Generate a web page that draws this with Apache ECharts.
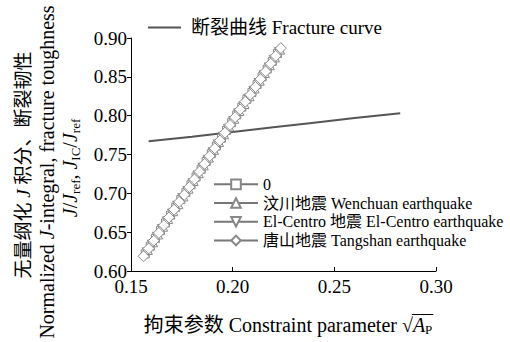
<!DOCTYPE html>
<html><head><meta charset="utf-8">
<script src="https://cdn.jsdelivr.net/npm/echarts@6/dist/echarts.min.js"></script>
<style>html,body{margin:0;padding:0;background:#fff}#c{width:510px;height:342px}</style>
</head><body><div id="c"></div>
<script>
// ---- data ----
const xTicks = [0.15, 0.20, 0.25, 0.30];
const yTicks = [0.60, 0.65, 0.70, 0.75, 0.80, 0.85, 0.90];

const fractureX = [0.1587, 0.180, 0.200, 0.220, 0.240, 0.260, 0.2824];
const fractureY = [0.767, 0.773, 0.779, 0.785, 0.791, 0.797, 0.803];

const s0X = [0.1570,0.1595,0.1620,0.1645,0.1670,0.1695,0.1720,0.1745,0.1770,0.1795,0.1820,0.1845,0.1870,0.1895,0.1920,0.1945,0.1970,0.1995,0.2020,0.2045,0.2070,0.2095,0.2120,0.2145,0.2170,0.2195,0.2220];
const s0Y = [0.622,0.632,0.642,0.652,0.662,0.672,0.682,0.692,0.701,0.711,0.721,0.731,0.741,0.751,0.761,0.771,0.781,0.791,0.801,0.811,0.821,0.830,0.840,0.850,0.860,0.870,0.880];

const wenX = [0.1583,0.1608,0.1633,0.1658,0.1683,0.1708,0.1733,0.1758,0.1783,0.1808,0.1833,0.1858,0.1883,0.1908,0.1933,0.1958,0.1983,0.2008,0.2033,0.2058,0.2083,0.2108,0.2133,0.2158,0.2183,0.2208,0.2233];
const wenY = [0.627,0.637,0.647,0.657,0.667,0.677,0.686,0.696,0.706,0.716,0.726,0.736,0.746,0.756,0.766,0.776,0.786,0.796,0.806,0.815,0.825,0.835,0.845,0.855,0.865,0.875,0.885];

const elX = [0.1577,0.1602,0.1627,0.1652,0.1677,0.1702,0.1727,0.1752,0.1777,0.1802,0.1827,0.1852,0.1877,0.1902,0.1927,0.1952,0.1977,0.2002,0.2027,0.2052,0.2077,0.2102,0.2127,0.2152,0.2177,0.2202,0.2227];
const elY = [0.624,0.634,0.644,0.654,0.664,0.674,0.684,0.694,0.703,0.713,0.723,0.733,0.743,0.753,0.763,0.773,0.783,0.793,0.803,0.812,0.822,0.832,0.842,0.852,0.862,0.872,0.882];

const tangX = [0.1562,0.1587,0.1612,0.1637,0.1662,0.1687,0.1712,0.1737,0.1762,0.1787,0.1812,0.1837,0.1862,0.1887,0.1912,0.1937,0.1962,0.1987,0.2012,0.2037,0.2062,0.2087,0.2112,0.2137,0.2162,0.2187,0.2212,0.2237];
const tangY = [0.619,0.629,0.639,0.649,0.659,0.669,0.679,0.689,0.698,0.708,0.718,0.728,0.738,0.748,0.758,0.768,0.778,0.788,0.798,0.808,0.818,0.827,0.837,0.847,0.857,0.867,0.877,0.887];

const names = {
  fracture: '断裂曲线 Fracture curve',
  s0: '0',
  wen: '汶川地震 Wenchuan earthquake',
  el: 'El-Centro 地震 El-Centro earthquake',
  tang: '唐山地震 Tangshan earthquake'
};
const xNameMain = '拘束参数 Constraint parameter ';

// ---- chart ----
const FONT = "'Liberation Serif', 'Times New Roman', 'Noto Sans CJK SC', serif";
const zip = (a, b) => a.map((v, i) => [v, b[i]]);
const W = 510;
const grid = {left: 131, right: 74, top: 38, bottom: 71};
const XN = 20, XSUB = 13, XPAD = 9;

// measure the x-axis name parts to place the radical's overline
const mctx = document.createElement('canvas').getContext('2d');
const mw = (t, f) => { mctx.font = f; return mctx.measureText(t).width; };
const wMain = mw(xNameMain, XN + 'px ' + FONT);
const wRt = mw('√', XN + 'px ' + FONT);
const wA = mw('A', 'italic ' + XN + 'px ' + FONT);
const wP = mw('P', XSUB + 'px ' + FONT);
const cx = grid.left + (W - grid.left - grid.right) / 2;
const total = wMain + wRt + wA + wP + XPAD;
const textStart = cx - total / 2 + XPAD;
const olX1 = textStart + wMain + wRt * 0.9;
const olX2 = textStart + wMain + wRt + wA + wP + 1;

const chart = echarts.init(document.getElementById('c'), null, {renderer: 'svg'});

const markerSeries = (name, xs, ys, symbol, size, rot) => ({
  name, type: 'line', data: zip(xs, ys),
  symbol, symbolSize: size, symbolRotate: rot || 0,
  showAllSymbol: true,
  lineStyle: {color: '#777', width: 1},
  itemStyle: {color: '#fff', borderColor: '#888', borderWidth: 1},
  emphasis: {disabled: true}
});

const gtext = (x, y, text, size, rich) => ({
  type: 'text', x, y, rotation: Math.PI / 2,
  style: {
    text, fontFamily: FONT, fontSize: size, fill: '#000',
    align: 'center', verticalAlign: 'middle', rich
  }
});

chart.setOption({
  animation: false,
  backgroundColor: '#fff',
  textStyle: {fontFamily: FONT, color: '#000'},
  grid,
  legend: [
    {
      data: [names.fracture], left: 147, top: 18, orient: 'vertical', padding: 0,
      itemWidth: 33, itemHeight: 14,
      itemStyle: {opacity: 0},
      textStyle: {fontFamily: FONT, fontSize: 19, color: '#000', padding: [0, 0, 0, 5]},
      selectedMode: false
    },
    {
      data: [names.s0, names.wen, names.el, names.tang], left: 213, top: 175, orient: 'vertical', padding: 0,
      itemWidth: 44, itemHeight: 12, itemGap: 0,
      textStyle: {fontFamily: FONT, fontSize: 16, color: '#000', lineHeight: 18.7},
      selectedMode: false
    }
  ],
  xAxis: {
    type: 'value', min: xTicks[0], max: xTicks[xTicks.length - 1], interval: 0.05,
    axisLine: {lineStyle: {color: '#000', width: 1}},
    axisTick: {inside: true, length: 4, lineStyle: {color: '#000'}},
    splitLine: {show: false},
    axisLabel: {fontFamily: FONT, fontSize: 19, color: '#000', margin: 6,
      formatter: v => v.toFixed(2)},
    name: xNameMain + '{rt|√}{it|A}{sub|P}',
    nameLocation: 'middle', nameGap: 43,
    nameTextStyle: {
      fontFamily: FONT, fontSize: XN, color: '#000', padding: [0, 0, 0, XPAD], lineHeight: 22,
      rich: {
        rt: {fontFamily: FONT, fontSize: XN, lineHeight: 22},
        it: {fontFamily: FONT, fontSize: XN, fontStyle: 'italic', lineHeight: 22},
        sub: {fontFamily: FONT, fontSize: XSUB, verticalAlign: 'bottom', lineHeight: 14}
      }
    }
  },
  yAxis: {
    type: 'value', min: yTicks[0], max: yTicks[yTicks.length - 1], interval: 0.05,
    axisLine: {show: true, lineStyle: {color: '#000', width: 1}},
    axisTick: {show: true, inside: false, length: 4, lineStyle: {color: '#000'}},
    splitLine: {show: false},
    axisLabel: {fontFamily: FONT, fontSize: 19, color: '#000', margin: 4,
      formatter: v => v.toFixed(2)}
  },
  graphic: [
    gtext(23, 165, '无量纲化 {it|J} 积分、断裂韧性', 19,
      {it: {fontStyle: 'italic', fontFamily: FONT, fontSize: 19, fill: '#000'}}),
    gtext(47, 172, 'Normalized {it|J}-integral, fracture toughness', 20,
      {it: {fontStyle: 'italic', fontFamily: FONT, fontSize: 20, fill: '#000'}}),
    gtext(70, 168, '{it|J}/{it|J}{sub|ref}, {it|J}{sub|IC}/{it|J}{sub|ref}', 20, {
      it: {fontStyle: 'italic', fontFamily: FONT, fontSize: 20, lineHeight: 24, fill: '#000'},
      sub: {fontFamily: FONT, fontSize: 13, lineHeight: 14, verticalAlign: 'bottom', fill: '#000'}
    }),
    {
      type: 'line', shape: {x1: olX1, y1: 314.5, x2: olX2, y2: 314.5},
      style: {stroke: '#000', lineWidth: 1}
    }
  ],
  series: [
    {
      name: names.fracture, type: 'line', data: zip(fractureX, fractureY),
      symbol: 'none', smooth: false,
      lineStyle: {color: '#555', width: 2},
      itemStyle: {color: '#555'},
      z: 3
    },
    markerSeries(names.s0, s0X, s0Y, 'rect', 8),
    markerSeries(names.wen, wenX, wenY, 'triangle', 9),
    markerSeries(names.el, elX, elY, 'triangle', 9, 180),
    markerSeries(names.tang, tangX, tangY, 'diamond', 11)
  ]
});
</script></body></html>
